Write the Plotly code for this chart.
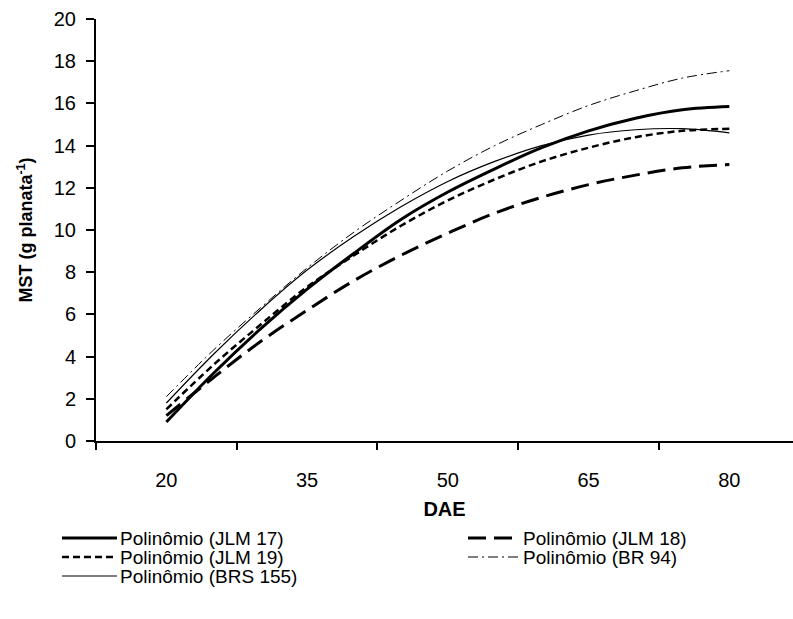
import plotly.graph_objects as go

# Days after emergence (x) and fitted MST values
dae = [20, 25, 30, 35, 40, 45, 50, 55, 60, 65, 70, 75, 80]

jlm17 = [0.9, 3.2, 5.3, 7.2, 8.9, 10.5, 11.8, 12.9, 13.9, 14.7, 15.3, 15.7, 15.85]
jlm18 = [1.2, 3.0, 4.7, 6.2, 7.6, 8.8, 9.85, 10.8, 11.55, 12.15, 12.6, 12.95, 13.1]
jlm19 = [1.5, 3.6, 5.5, 7.3, 8.8, 10.2, 11.4, 12.4, 13.25, 13.9, 14.4, 14.7, 14.8]
br94 = [2.1, 4.3, 6.3, 8.2, 9.9, 11.4, 12.8, 14.0, 15.0, 15.9, 16.6, 17.2, 17.55]
brs155 = [1.8, 4.1, 6.2, 8.1, 9.7, 11.1, 12.3, 13.25, 14.0, 14.5, 14.75, 14.8, 14.6]

series_names = ["Polinômio (JLM 17)", "Polinômio (JLM 18)", "Polinômio (JLM 19)",
                "Polinômio (BR 94)", "Polinômio (BRS 155)"]

x_ticks = [20, 35, 50, 65, 80]
y_ticks = [0, 2, 4, 6, 8, 10, 12, 14, 16, 18, 20]

styles = [
    dict(width=3, dash="solid"),
    dict(width=3, dash="18px,8px"),
    dict(width=2.5, dash="7px,4px"),
    dict(width=1, dash="10px,4px,2px,4px"),
    dict(width=1.2, dash="solid"),
]

FONT = "Liberation Sans, Arial, sans-serif"
W, H = 793, 619
ML, MR, MT, MB = 96, 0, 19, 178
PW, PH = W - ML - MR, H - MT - MB

fig = go.Figure()
for name, vals, st in zip(series_names, [jlm17, jlm18, jlm19, br94, brs155], styles):
    fig.add_trace(go.Scatter(
        x=dae, y=vals, mode="lines", name=name, showlegend=False,
        line=dict(color="black", width=st["width"], dash=st["dash"], shape="spline"),
    ))

# x range: category-style edges at 12.5, 27.5, ... ; 9.383 px per day
px_per_day = 9.383
x0 = 12.5
x1 = x0 + PW / px_per_day

fig.update_xaxes(
    range=[x0, x1], tickvals=x_ticks, ticktext=[str(v) for v in x_ticks],
    ticks="", showgrid=False, zeroline=False,
    showline=True, linecolor="black", linewidth=2,
    tickfont=dict(family=FONT, size=20, color="black"),
    ticklabelstandoff=20,
    minor=dict(tick0=12.5, dtick=15, ticks="outside", ticklen=7, tickcolor="black",
               tickwidth=1.5, showgrid=False),
    title=dict(text="<b>DAE</b>", font=dict(family=FONT, size=20, color="black"), standoff=12),
)
fig.update_yaxes(
    range=[0, 20], tickvals=y_ticks, ticks="outside", ticklen=8, tickwidth=1.5,
    tickcolor="black", showgrid=False, zeroline=False,
    showline=True, linecolor="black", linewidth=2,
    tickfont=dict(family=FONT, size=20, color="black"),
    ticklabelstandoff=6,
    title=dict(text="<b>MST (g planata<sup>-1</sup>)</b>",
               font=dict(family=FONT, size=18, color="black"), standoff=16),
)

# manual legend (pixel positions converted to paper coords)
def px(xp):
    return (xp - ML) / PW

def py(yp):
    return (H - MB - yp) / PH

legend_pos = [
    (62, 117, 538), (468, 520, 538),
    (62, 117, 557), (468, 520, 557),
    (62, 117, 576),
]
for name, st, (lx0, lx1, ly) in zip(series_names, styles, legend_pos):
    fig.add_shape(type="line", xref="paper", yref="paper",
                  x0=px(lx0), x1=px(lx1), y0=py(ly), y1=py(ly),
                  line=dict(color="black", width=st["width"], dash=st["dash"]))
    fig.add_annotation(xref="paper", yref="paper", x=px(lx1 + 1), y=py(ly),
                       text=name, showarrow=False, xanchor="left", yanchor="middle",
                       font=dict(family=FONT, size=19, color="black"))

fig.update_layout(
    width=W, height=H,
    margin=dict(l=ML, r=MR, t=MT, b=MB),
    paper_bgcolor="white", plot_bgcolor="white",
    showlegend=False,
)

fig.write_html("out.html")
